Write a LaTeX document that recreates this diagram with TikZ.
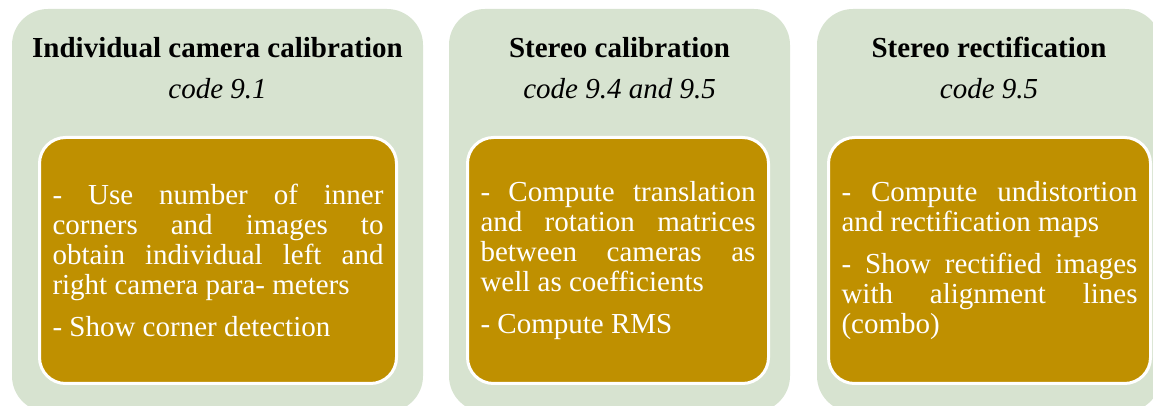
\documentclass[tikz,border=0pt]{standalone}
\usepackage{fontspec}
\setmainfont{Liberation Serif}
\definecolor{panelgreen}{RGB}{215,227,208}
\definecolor{boxgold}{RGB}{191,144,0}
\hyphenpenalty=10000

\begin{document}
\begin{tikzpicture}[x=1pt, y=1pt,
    panel/.style={fill=panelgreen, rounded corners=36pt, minimum height=403pt, inner sep=0pt, outer sep=0pt},
    taskbox/.style={fill=boxgold, draw=white, line width=3pt, rounded corners=26pt, minimum height=246pt,
        inner xsep=13pt, text=white, align=justify,
        font={\fontsize{29}{30}\selectfont\setlength{\parskip}{12pt}}},
    headline/.style={anchor=base, font=\fontsize{29}{30}\selectfont\bfseries},
    coderef/.style={anchor=base, font=\fontsize{29}{30}\selectfont\itshape}]

        % Cornice dell'immagine
        \useasboundingbox (0,0) rectangle (1153,406);
        \clip (0,0) rectangle (1153,406);

        % --- Pannelli verdi con titolo e riferimento al codice ---
        \foreach \n/\cx/\w/\head/\code in {
            1/217.5/411/Individual camera calibration/code 9.1,
            2/619.5/341/Stereo calibration/code 9.4 and 9.5,
            3/989/344/Stereo rectification/code 9.5
        } {
            \node[panel, minimum width=\w pt] (panel\n) at (\cx,195.5) {};
            \node[headline] (head\n) at (\cx,348) {\head};
            \node[coderef] (code\n) at (\cx,307) {\code};
        }

        % --- Riquadri interni con i passi ---
        \node[taskbox, text width=331pt] (task1) at (218,145.5) {%
            - Use number of inner\linebreak corners and images to\linebreak
            obtain individual left and\linebreak right camera para- meters\par
            - Show corner detection};
        \node[taskbox, text width=275pt] (task2) at (618,145.5) {%
            - Compute translation\linebreak and rotation matrices\linebreak
            between cameras as\linebreak well as coefficients\par
            - Compute RMS};
        \node[taskbox, text width=296pt] (task3) at (989.5,145.5) {%
            - Compute undistortion\linebreak and rectification maps\par
            - Show rectified images\linebreak with alignment lines\linebreak (combo)};

\end{tikzpicture}
\end{document}
